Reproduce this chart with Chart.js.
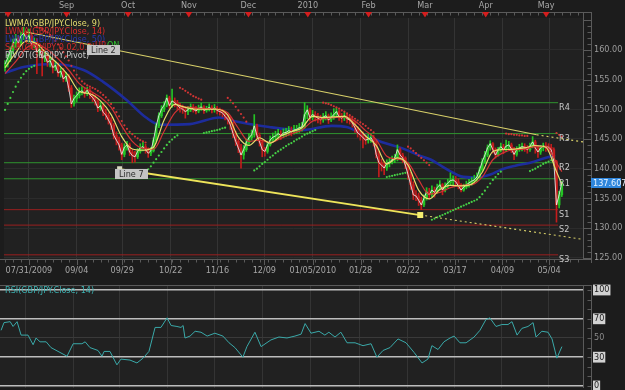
<!DOCTYPE html>
<html><head><meta charset="utf-8">
<script src="https://cdn.jsdelivr.net/npm/chart.js@4.4.1/dist/chart.umd.min.js"></script>
<style>
html,body{margin:0;padding:0;background:#1c1c1c;width:625px;height:390px;overflow:hidden}
canvas{position:absolute;left:0}
#c1{top:0}
#c2{top:282px}
</style></head><body>
<canvas id="c1" width="625" height="282" style="width:625px;height:282px"></canvas>
<canvas id="c2" width="625" height="108" style="width:625px;height:108px"></canvas>
<script>
// ---------- tick labels ----------
const dateIdx = [9,27,44.2,62.5,80.1,97.8,116.1,134.1,152.1,169.7,187.6,205.2];
const dateLabels = ['07/31/2009','09/04','09/29','10/22','11/16','12/09','01/05/2010','01/28','02/22','03/17','04/09','05/04'];
const monthIdx = [1.1,23.2,46.4,69.3,91.8,114.2,137.1,158.4,181.3,204.1];
const monthLabels = ['','Sep','Oct','Nov','Dec','2010','Feb','Mar','Apr','May'];
const priceTicks = [125,130,135,140,145,150,155,160];
const rsiTicks = [0,30,50,70,100];

// ---------- GBP/JPY daily candles ----------
const firstOpen = 157.0;
const closes = [
157.6,158.6,159.9,161.0,161.9,161.2,162.3,162.8,161.9,162.4,
160.9,161.4,159.6,160.1,158.6,159.0,157.9,158.2,157.0,157.4,
156.1,156.4,155.1,155.6,153.6,150.9,151.8,152.3,152.9,153.1,
152.7,153.2,152.4,152.0,151.3,150.2,150.6,149.5,149.0,148.2,
147.3,145.6,144.8,144.0,142.4,143.6,144.0,142.8,142.2,142.0,
142.9,143.5,143.7,143.2,142.6,143.0,144.8,147.2,148.9,150.0,
150.7,151.9,150.6,151.4,151.1,150.7,150.2,150.0,149.6,149.9,
150.4,150.0,149.7,150.1,150.4,149.8,150.0,150.3,149.9,150.2,
149.8,149.6,149.4,148.8,148.3,147.4,145.9,144.6,143.5,142.3,
143.2,144.4,145.2,145.7,147.2,145.6,144.5,143.2,142.9,144.0,
144.8,145.3,145.5,145.9,145.6,146.0,146.1,146.4,146.2,146.5,
146.6,146.9,147.0,149.1,149.9,148.6,149.1,148.8,148.5,148.2,
148.7,148.9,148.2,148.6,149.1,149.6,148.7,148.5,148.9,148.4,
148.2,147.7,146.9,146.0,145.7,145.2,144.8,145.0,145.2,144.5,
142.4,141.0,140.6,140.1,140.9,141.1,141.5,141.8,143.2,142.3,
141.8,140.6,139.0,137.3,135.6,135.4,134.7,133.9,135.0,136.1,
135.6,136.4,136.0,136.8,137.3,136.4,137.1,137.6,138.0,138.1,
137.8,137.1,136.4,136.9,137.3,137.6,137.9,138.1,138.6,139.8,
141.2,142.3,143.5,144.2,143.2,142.3,143.2,143.7,143.2,143.8,
144.0,143.3,142.4,143.2,143.5,143.7,143.6,143.2,143.8,144.5,
143.5,142.8,143.5,143.8,143.7,143.6,143.2,141.2,133.9,135.6,137.607];
const highs = [
158.2,159.3,160.5,161.8,162.6,162.4,163.0,163.8,163.2,163.5,
162.8,162.0,161.9,160.8,160.5,159.7,159.4,158.9,158.6,158.1,
157.8,157.0,156.9,156.2,155.9,154.0,152.4,152.9,153.6,153.8,
153.6,153.7,153.5,152.8,152.3,151.6,151.2,150.9,150.0,149.4,
148.6,147.6,146.2,145.3,144.3,144.2,144.6,144.3,143.2,142.9,
143.4,144.2,144.5,144.1,143.5,143.6,145.2,147.6,149.4,150.6,
151.3,152.4,152.2,153.4,151.9,151.5,151.0,150.7,150.3,150.5,
150.9,150.8,150.5,150.7,151.0,150.6,150.5,150.9,150.6,150.8,
150.5,150.2,150.0,149.7,149.2,148.7,147.8,146.3,145.0,144.1,
143.9,145.0,145.9,146.5,149.1,147.5,146.0,144.8,143.6,144.6,
145.5,146.0,146.3,146.6,146.4,146.7,146.8,147.1,147.0,147.3,
147.3,147.6,147.8,151.1,150.6,150.2,149.8,149.6,149.3,149.0,
149.3,149.6,149.2,149.4,150.1,150.2,149.8,149.3,149.5,149.2,
148.9,148.6,148.0,147.1,146.5,146.2,145.7,145.8,145.9,145.6,
144.8,142.9,141.6,141.2,141.5,141.8,142.1,142.4,144.0,143.5,
142.6,142.0,140.9,139.4,137.8,136.3,135.9,135.2,135.6,136.8,
136.7,137.1,136.9,137.4,138.0,137.5,137.6,138.2,139.3,138.8,
138.7,138.3,137.5,137.4,137.9,138.2,138.5,138.9,139.3,140.3,
141.7,142.9,144.0,144.7,144.4,143.5,143.6,144.3,144.1,144.8,
144.6,144.3,143.6,143.7,144.1,144.3,144.2,143.9,144.3,145.4,
144.8,143.9,143.9,144.3,144.4,144.2,144.1,143.5,141.4,136.2,137.9];
const lows = [
156.4,157.1,158.0,159.3,160.4,160.5,160.8,161.7,161.2,161.3,
160.2,160.3,156.0,159.0,155.6,158.0,157.2,157.1,156.1,156.5,
155.5,155.4,154.6,154.7,153.0,150.3,150.5,151.2,151.9,152.4,
152.0,152.3,151.8,151.3,150.7,149.6,149.8,148.9,148.3,147.5,
146.6,145.0,144.0,143.1,141.5,142.0,143.1,142.2,141.0,141.1,
141.7,142.6,143.0,142.6,141.9,142.2,142.8,144.5,146.9,148.6,
149.6,150.4,150.1,150.3,150.4,150.0,149.5,149.3,148.5,149.1,
149.6,149.5,149.2,149.4,149.8,149.3,149.5,149.7,149.4,149.5,
149.2,149.0,148.7,148.2,147.5,146.6,145.2,143.9,142.7,140.1,
141.6,142.9,144.0,144.8,145.3,145.0,143.8,142.0,142.1,142.6,
143.8,144.5,144.7,145.1,144.9,145.2,145.4,145.6,145.5,145.8,
145.9,146.1,146.3,146.8,148.4,148.0,148.2,148.0,147.7,147.5,
147.8,148.2,147.6,147.9,148.3,148.6,148.1,147.8,148.1,147.7,
147.5,147.0,146.1,145.3,144.8,143.5,144.1,144.3,144.4,143.8,
141.8,138.6,139.6,139.0,139.7,140.3,140.8,141.0,141.3,141.7,
141.0,140.0,138.2,136.5,134.8,134.6,133.8,133.1,133.6,134.7,
134.9,135.3,135.2,135.8,136.4,135.6,136.1,136.8,137.2,137.3,
137.1,136.6,136.1,136.2,136.6,136.9,137.2,137.5,137.8,138.4,
139.5,140.9,142.0,143.1,142.6,141.8,142.1,142.8,142.5,142.9,
143.2,142.7,141.5,142.1,142.9,143.0,142.9,142.6,142.9,143.5,
142.6,141.9,142.4,143.0,142.9,142.8,142.4,140.6,131.0,133.4,135.3];

// ---------- indicator lines ----------
const maIdx = [0,4,8,12,16,20,24,28,32,36,40,44,48,52,56,60,64,68,72,76,80,84,88,92,96,100,104,108,112,116,120,124,128,132,136,140,144,148,152,156,160,164,168,172,176,180,184,188,192,196,200,204,208,210];
const lwma9 = [157.0,159.5,161.5,161.0,159.2,157.6,155.6,153.0,152.6,151.4,149.1,145.4,143.3,143.1,143.6,148.2,150.8,150.3,150.0,150.0,150.0,149.0,145.3,143.9,145.2,144.3,145.5,146.2,146.9,148.8,148.6,148.7,148.8,147.4,145.5,143.9,140.8,141.8,140.6,136.4,134.9,136.5,137.2,137.1,137.4,139.4,142.9,143.2,143.3,143.5,143.9,143.6,139.5,137.4];
const lwma14 = [156.0,158.0,160.3,160.9,160.0,158.5,156.6,154.3,153.1,152.0,150.3,147.2,144.6,143.4,143.3,146.3,149.4,150.4,150.2,150.1,150.0,149.4,146.8,144.6,144.8,144.4,145.1,145.9,146.5,148.0,148.4,148.6,148.7,148.0,146.4,144.9,142.1,141.6,141.0,138.1,135.7,136.0,136.8,137.2,137.3,138.6,141.5,142.7,143.2,143.3,143.7,143.7,141.0,139.5];
const lwma50Idx = [0,7,18.4,29.6,37,45.7,53.2,58.4,69.7,80.9,87.6,99.6,112,123.2,128.8,134.5,142,149.4,156.9,160.7,164.4,168.2,171.9,177.5,183.1,186.9,192.5,198.1,203.7,207.5];
const lwma50 = [156.1,157.1,157.6,156.6,154.6,151.6,148.6,147.4,147.5,148.6,147.9,147.0,146.5,147.2,147.0,145.9,144.5,143.5,142.1,141.5,140.5,139.5,138.7,138.5,139.0,139.8,140.5,141.0,141.8,142.3];

// Parabolic SAR dots: segment start bar + values
const sarUpStart = [0,54,75,94,144,161,198];
const sarUpVals = [
 [149.9,150.9,151.9,152.9,153.8,154.6,155.3,155.9,156.4,156.8,157.1,157.3],
 [139.9,140.4,141.0,141.6,142.2,142.8,143.4,144.0,144.5,144.9,145.3,145.6],
 [146.0,146.1,146.2,146.3,146.4,146.5,146.6,146.8,146.9],
 [139.7,140.0,140.4,140.8,141.1,141.5,141.9,142.2,142.6,142.9,143.2,143.5,143.8,144.1,144.3,144.6,144.9,145.1,145.4,145.7,145.9,146.1,146.3,146.5],
 [138.6,138.7,138.8,138.9,139.0,139.1,139.2,139.3],
 [131.4,131.6,131.8,132.0,132.2,132.4,132.6,132.8,133.0,133.2,133.4,133.6,133.8,134.0,134.2,134.4,134.6,134.8,135.2,135.7,136.3,136.9,137.5,138.1,138.6,139.1,139.5],
 [139.6,139.8,140.0,140.3,140.5,140.8,141.0,141.2,141.4,141.6]];
const sarDnStart = [12,66,84,120,152,189,208];
const sarDnVals = [
 [163.8,163.7,163.5,163.2,162.9,162.5,162.0,161.5,160.9,160.3,159.6,158.9,158.2,157.3,156.5,155.8,155.2,154.7,154.3,154.0,153.8,153.6,153.4,153.1,152.8,152.4,152.0,151.5,150.9,150.2,149.5,148.8,148.0,147.3,146.7,146.2,145.8,145.4,145.1,144.8,144.6,144.4],
 [153.6,153.4,153.1,152.8,152.5,152.2,152.0,151.8,151.6],
 [151.9,151.5,151.0,150.4,149.8,149.2,148.6,147.9],
 [151.1,151.0,150.9,150.7,150.5,150.3,150.1,149.8,149.6,149.3,149.0,148.7,148.4,148.1,147.8,147.5,147.2,146.8,146.5,146.1],
 [143.7,143.4,143.0,142.6,142.2,141.8,141.4,141.0,140.6],
 [145.9,145.8,145.8,145.7,145.7,145.6,145.6,145.5,145.5],
 [146.0,145.7,145.4]];

// Pivot levels
const pivotNames = ['R4','R3','R2','R1','S1','S2','S3'];
const pivotLevels = [151.1,145.9,141.0,138.3,133.1,130.5,125.5];
const pivotEnd = 208.6;

// Trend lines (solid part first two points, dotted projection last two)
const line2Idx = [8,200.5,218];
const line2Val = [163.0,145.7,144.5];
const line7Idx = [43.4,156.6,218];
const line7Val = [139.9,132.2,128.1];

// RSI(14)
const rsiBar = [0,1.1,3.4,4.5,6.0,7.5,10.1,12.0,13.1,14.6,16.9,18.7,24.7,27.0,30.3,31.5,33.3,36.3,37.8,38.6,40.8,43.4,44.9,48.3,50.9,53.2,55.4,57.7,59.9,62.2,63.7,65.9,67.4,68.2,68.9,70.8,72.7,74.9,77.2,80.1,83.1,85.4,87.6,90.6,92.1,95.1,97.4,101.1,104.1,107.1,110.1,112.4,113.9,116.1,119.1,121.3,122.8,125.1,127.3,129.6,132.6,135.6,138.6,140.8,143.1,145.7,148.7,151.7,154.7,157.7,159.9,161.4,163.7,165.9,168.2,169.7,171.9,174.2,177.2,179.4,181.6,183.1,185.4,187.6,189.9,191.4,193.3,195.1,197.4,199.3,200.4,202.6,204.9,206.4,208.2,210.1];
const rsiVal = [58,66,67,62,67,53,53,43,50,46,46,40,31,44,44,46,40,37,31,36,36,22,28,27,24,29,36,61,61,71,63,62,61,63,50,52,57,56,52,55,52,45,40,30,41,56,41,48,51,50,52,54,65,55,57,53,56,51,56,45,45,42,44,30,37,40,49,45,35,24,28,42,38,46,50,52,45,45,51,58,69,71,62,64,64,67,53,60,62,66,51,57,56,49,29,41];

// ---------- styling ----------
const FONT = "'Liberation Sans Narrow','Arial Narrow','DejaVu Sans Condensed','Liberation Sans',sans-serif";
Chart.defaults.font.family = FONT;
Chart.defaults.font.size = 9;
const GREEN = '#24c424', RED = '#c41c1c';
const XMIN = -0.4, XMAX = 218;

const N = closes.length;
const opens = closes.map((c,i)=> i===0 ? firstOpen : closes[i-1]);
const candleColors = closes.map((c,i)=> c>=opens[i] ? GREEN : RED);
const wickData = closes.map((c,i)=>({x:i, y:[lows[i], highs[i]]}));
const bodyData = closes.map((c,i)=>({x:i, y:[opens[i], c]}));
const pts = (xs, ys) => xs.map((v,i)=>({x:v, y:ys[i]}));
const segPts = (starts, vals) => { const out=[]; starts.forEach((s,k)=>vals[k].forEach((v,j)=>out.push({x:s+j,y:v}))); return out; };
const noPad = s => { s.paddingTop=0; s.paddingBottom=0; s.paddingLeft=0; s.paddingRight=0; };

const bgPlugin = {
  id:'bg',
  beforeDraw(chart){
    const {ctx, chartArea:a, width, height} = chart;
    ctx.save();
    ctx.fillStyle = '#1c1c1c'; ctx.fillRect(0,0,width,height);
    ctx.fillStyle = '#212121'; ctx.fillRect(a.left,a.top,a.right-a.left,a.bottom-a.top);
    ctx.restore();
  }
};

function L(ctx,x1,y1,x2,y2){ctx.beginPath();ctx.moveTo(x1,y1);ctx.lineTo(x2,y2);ctx.stroke();}

const mainDecor = {
  id:'mainDecor',
  afterDatasetsDraw(chart){
    const {ctx, chartArea:a, scales:{x,y}} = chart;
    ctx.save();
    ctx.lineWidth = 1;
    ctx.strokeStyle = '#5a5a5a';
    L(ctx,0,12.5,592,12.5);
    for (let i=0;i<=216;i+=3){const px=Math.round(x.getPixelForValue(i))+0.5; L(ctx,px,12.5,px,15.5);}
    L(ctx,a.right+0.5,12.5,a.right+0.5,a.bottom+0.5);
    L(ctx,0,a.bottom+0.5,592,a.bottom+0.5);
    for (let i=0;i<=216;i+=3){const px=Math.round(x.getPixelForValue(i))+0.5; L(ctx,px,a.bottom+0.5,px,a.bottom+3.5);}
    dateIdx.forEach(v=>{const px=Math.round(x.getPixelForValue(v))+0.5; L(ctx,px,a.bottom+0.5,px,a.bottom+6);});
    L(ctx,591.5,12.5,591.5,a.bottom+4);
    for (let p=125;p<=165;p++){const py=Math.round(y.getPixelForValue(p))+0.5; if(py<13||py>a.bottom+2) continue; L(ctx,p%5===0?584:587.5,py,591.5,py);}
    ctx.fillStyle = '#d41e1e';
    monthIdx.forEach(v=>{const px=x.getPixelForValue(v); ctx.beginPath(); ctx.moveTo(px-3.5,12); ctx.lineTo(px+3.5,12); ctx.lineTo(px,17.5); ctx.closePath(); ctx.fill();});
    ctx.font = '9px '+FONT; ctx.textBaseline='top'; ctx.textAlign='left';
    ctx.fillStyle = '#c8c8c8';
    pivotLevels.forEach((lv,k)=>{ctx.fillText(pivotNames[k], x.getPixelForValue(pivotEnd)+1, y.getPixelForValue(lv)+0.5);});
    ctx.textBaseline='middle';
    const leg = [['LWMA(GBP/JPY.Close, 9)','#e6de6e'],['LWMA(GBP/JPY.Close, 14)','#d42a2a'],['LWMA(GBP/JPY.Close, 50)','#2838b0'],['SAR(GBP/JPY,0.02,0.2)','#d42a2a'],['PIVOT(GBP/JPY,Pivot)','#c8c8c8']];
    leg.forEach((l,k)=>{ctx.fillStyle=l[1]; ctx.fillText(l[0],5,24+k*7.8);});
    ctx.fillStyle='#d42a2a'; ctx.fillText('UP',95,46);
    ctx.fillStyle='#2ec42e'; ctx.fillText('ON',107,46);
    const a7s = {x:x.getPixelForValue(line7Idx[0]), y:y.getPixelForValue(line7Val[0])};
    const a7e = {x:x.getPixelForValue(line7Idx[1]), y:y.getPixelForValue(line7Val[1])};
    ctx.fillStyle='#d8d8c0'; ctx.fillRect(a7s.x-3,a7s.y-3,5,5);
    ctx.fillStyle='#f4ee70'; ctx.fillRect(a7e.x-3,a7e.y-3,6,6);
    const tag=(txt,cx,cy)=>{ctx.font='9px '+FONT; const w=ctx.measureText(txt).width+8; ctx.fillStyle='#c4c4c4'; ctx.fillRect(Math.round(cx-w/2),Math.round(cy-5),Math.round(w),10); ctx.fillStyle='#2a2a2a'; ctx.textAlign='center'; ctx.fillText(txt,cx,cy+0.5); ctx.textAlign='left';};
    tag('Line 2', x.getPixelForValue(37.1), y.getPixelForValue(160.0));
    tag('Line 7', x.getPixelForValue(47.6), y.getPixelForValue(139.1));
    const ly = y.getPixelForValue(closes[N-1]);
    ctx.fillStyle='#2f86dc'; ctx.fillRect(591,Math.round(ly-5),30,10);
    ctx.fillStyle='#e8f4ff'; ctx.textAlign='left'; ctx.fillText(closes[N-1].toFixed(3),593,ly+0.5);
    ctx.restore();
  }
};

const pivotSets = pivotLevels.map((lv,k)=>({type:'line', data:[{x:XMIN,y:lv},{x:pivotEnd,y:lv}], borderColor: k<4?'#2f942f':'#9a1f1f', borderWidth:1, pointRadius:0, order:20}));

new Chart(document.getElementById('c1'), {
  type:'bar',
  data:{datasets:[
    ...pivotSets,
    {type:'line', data:pts(lwma50Idx,lwma50), borderColor:'#1d2c9c', borderWidth:2.6, pointRadius:0, cubicInterpolationMode:'monotone', order:12},
    {type:'bar', data:wickData, backgroundColor:candleColors, barThickness:1, grouped:false, order:11},
    {type:'bar', data:bodyData, backgroundColor:candleColors, barThickness:2, minBarLength:1, grouped:false, order:10},
    {type:'line', data:segPts(sarUpStart,sarUpVals), showLine:false, pointRadius:1.1, pointBorderWidth:0, pointBackgroundColor:'#46d046', order:9},
    {type:'line', data:segPts(sarDnStart,sarDnVals), showLine:false, pointRadius:1.1, pointBorderWidth:0, pointBackgroundColor:'#d23434', order:8},
    {type:'line', data:closes.map((c,i)=>({x:i,y:c})), borderColor:'rgba(236,236,236,0.85)', borderWidth:1, pointRadius:0, order:7},
    {type:'line', data:pts(maIdx,lwma14), borderColor:'#d23434', borderWidth:1.2, pointRadius:0, cubicInterpolationMode:'monotone', order:6},
    {type:'line', data:pts(maIdx,lwma9), borderColor:'#e6de6e', borderWidth:1.2, pointRadius:0, cubicInterpolationMode:'monotone', order:5},
    {type:'line', data:pts(line2Idx.slice(0,2),line2Val.slice(0,2)), borderColor:'#d9d16a', borderWidth:1.1, pointRadius:0, order:4},
    {type:'line', data:pts(line2Idx.slice(1),line2Val.slice(1)), borderColor:'#d9d16a', borderWidth:1.1, borderDash:[2,3], pointRadius:0, order:4},
    {type:'line', data:pts(line7Idx.slice(0,2),line7Val.slice(0,2)), borderColor:'#eee45a', borderWidth:1.8, pointRadius:0, order:3},
    {type:'line', data:pts(line7Idx.slice(1),line7Val.slice(1)), borderColor:'#d9d16a', borderWidth:1.1, borderDash:[2,3], pointRadius:0, order:3}
  ]},
  options:{
    responsive:false, animation:false, events:[],
    layout:{padding:0},
    plugins:{legend:{display:false}, tooltip:{enabled:false}},
    scales:{
      x:{type:'linear', position:'bottom', min:XMIN, max:XMAX, offset:false,
        afterBuildTicks:s=>{s.ticks=dateIdx.map(v=>({value:v}));},
        afterFit:s=>{s.height=23; noPad(s);},
        ticks:{autoSkip:false, maxRotation:0, color:'#a6a6a6', padding:6, callback:(v,i)=>dateLabels[i]},
        grid:{color:'#343434', drawTicks:false, offset:false}, border:{display:false}},
      x2:{type:'linear', position:'top', min:XMIN, max:XMAX, offset:false,
        afterBuildTicks:s=>{s.ticks=monthIdx.map(v=>({value:v}));},
        afterFit:s=>{s.height=18; noPad(s);},
        ticks:{autoSkip:false, maxRotation:0, color:'#a6a6a6', padding:7, callback:(v,i)=>monthLabels[i]},
        grid:{display:false, drawTicks:false}, border:{display:false}},
      y:{type:'linear', position:'right', min:124.8, max:165.35,
        afterBuildTicks:s=>{s.ticks=priceTicks.map(v=>({value:v}));},
        afterFit:s=>{s.width=42; noPad(s);},
        ticks:{color:'#9c9c9c', padding:11, callback:v=>Number(v).toFixed(2)},
        grid:{color:'#2c2c2c', drawTicks:false}, border:{display:false}}
    }
  },
  plugins:[bgPlugin, mainDecor]
});

const rsiDecor = {
  id:'rsiDecor',
  afterDatasetsDraw(chart){
    const {ctx, chartArea:a, scales:{y}} = chart;
    ctx.save();
    ctx.lineWidth=1; ctx.strokeStyle='#5a5a5a';
    L(ctx,a.right+0.5,a.top,a.right+0.5,a.bottom);
    L(ctx,0,a.top+0.5,592,a.top+0.5);
    L(ctx,591.5,a.top,591.5,a.bottom+2);
    for (let v=0;v<=100;v+=10){const py=Math.round(y.getPixelForValue(v))+0.5; L(ctx,587.5,py,591.5,py);}
    ctx.font='9px '+FONT; ctx.textBaseline='middle'; ctx.fillStyle='#3cb2b2';
    ctx.fillText('RSI(GBP/JPY.Close, 14)',5,9);
    ctx.restore();
  }
};

new Chart(document.getElementById('c2'), {
  type:'line',
  data:{datasets:[
    {data:pts(rsiBar,rsiVal), borderColor:'#3aa9a9', borderWidth:1, pointRadius:0}
  ]},
  options:{
    responsive:false, animation:false, events:[],
    layout:{padding:{top:3,bottom:2,left:0,right:0}},
    plugins:{legend:{display:false}, tooltip:{enabled:false}},
    scales:{
      x:{type:'linear', min:XMIN, max:XMAX, offset:false,
        afterBuildTicks:s=>{s.ticks=dateIdx.map(v=>({value:v}));},
        afterFit:s=>{s.height=0; noPad(s);},
        ticks:{display:false}, grid:{color:'#343434', drawTicks:false}, border:{display:false}},
      y:{type:'linear', position:'right', min:-2.1, max:105.2,
        afterBuildTicks:s=>{s.ticks=rsiTicks.map(v=>({value:v}));},
        afterFit:s=>{s.width=42; noPad(s);},
        ticks:{padding:11, color:c=>c.tick&&c.tick.value===50?'#8a8a8a':'#1a1a1a',
          showLabelBackdrop:c=>!(c.tick&&c.tick.value===50), backdropColor:'#d2d2d2', backdropPadding:{left:1,right:1,top:0,bottom:0},
          callback:v=>String(v)},
        grid:{drawTicks:false, color:c=>c.tick&&c.tick.value===50?'#3a3a3a':'#bdbdbd', lineWidth:c=>c.tick&&c.tick.value===50?1:1.4},
        border:{display:false}}
    }
  },
  plugins:[bgPlugin, rsiDecor]
});
</script>
</body></html>
